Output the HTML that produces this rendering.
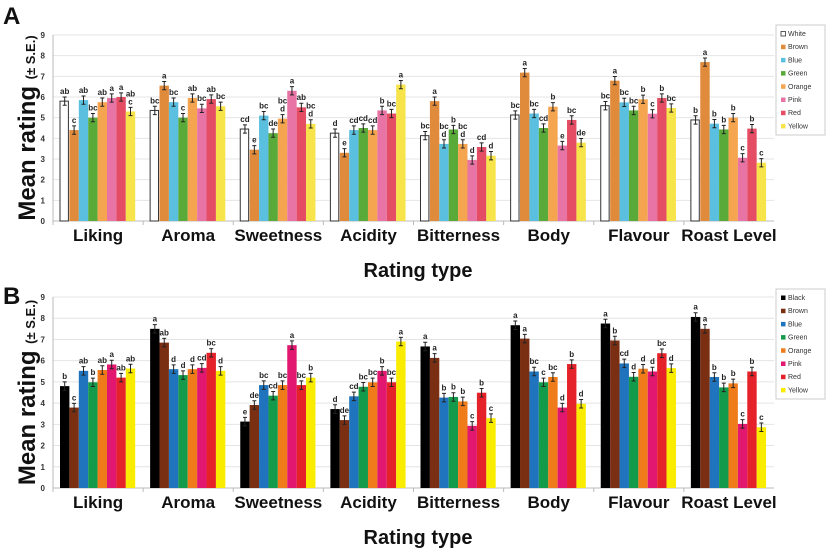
<!DOCTYPE html>
<html><head><meta charset="utf-8"><style>
body{margin:0;background:#fff;font-family:"Liberation Sans",Arial,sans-serif;}
svg text{font-family:"Liberation Sans",Arial,sans-serif;}
</style></head><body>
<svg id="chart" width="826" height="550" viewBox="0 0 826 550" xmlns="http://www.w3.org/2000/svg"></svg>
<script>
const categories = ["Liking","Aroma","Sweetness","Acidity","Bitterness","Body","Flavour","Roast Level"];
const tickLabels = ["0","1","2","3","4","5","6","7","8","9"];
const seriesA = ["White","Brown","Blue","Green","Orange","Pink","Red","Yellow"];
const seriesB = ["Black","Brown","Blue","Green","Orange","Pink","Red","Yellow"];
const colorsA = ["#ffffff","#e08a3c","#5bc0e0","#5aaa3a","#f5a54f","#e874a6","#e44d63","#f7e44a"];
const colorsB = ["#000000","#7a2e12","#1f74bd","#139a4a","#f07b1a","#e2176f","#e52229","#f9ec00"];
const valuesA = [
 [5.8,4.4,5.85,5.0,5.75,5.95,6.0,5.3],
 [5.35,6.55,5.75,5.0,5.95,5.45,5.9,5.55],
 [4.45,3.45,5.1,4.25,4.95,6.3,5.5,4.7],
 [4.25,3.3,4.4,4.5,4.4,5.35,5.2,6.6],
 [4.13,5.8,3.73,4.43,3.73,2.95,3.58,3.16],
 [5.13,7.18,5.2,4.5,5.53,3.65,4.89,3.79],
 [5.58,6.79,5.74,5.35,5.89,5.19,5.95,5.47],
 [4.89,7.69,4.71,4.43,5.0,3.06,4.47,2.82]];
const lettersA = [
 ["ab","c","ab","bc","ab","a","a","ab\nc"],
 ["bc","a","bc","c","ab","bc","ab","bc"],
 ["cd","e","bc","de","bc\nd","a","ab","bc\nd"],
 ["d","e","cd","cd","cd","b","bc","a"],
 ["bc","a","bc\nd","b","bc\nd","d","cd","d"],
 ["bc","a","bc","cd","b","e","bc","de"],
 ["bc","a","bc","bc","b","c","b","bc"],
 ["b","a","b","b","b","c","b","c"]];
const valuesB = [
 [4.8,3.79,5.52,4.98,5.56,5.82,5.2,5.63],
 [7.5,6.85,5.6,5.32,5.6,5.66,6.37,5.52],
 [3.13,3.91,4.85,4.35,4.85,6.73,4.85,5.2],
 [3.72,3.2,4.32,4.77,4.98,5.52,4.98,6.9],
 [6.67,6.13,4.26,4.29,4.08,2.93,4.49,3.29],
 [7.67,7.04,5.49,4.98,5.23,3.79,5.84,3.97],
 [7.75,6.95,5.87,5.24,5.62,5.49,6.35,5.65],
 [8.06,7.5,5.23,4.74,4.93,3.02,5.49,2.86]];
const lettersB = [
 ["b","c","ab","b","ab","a","ab","ab"],
 ["a","ab","d","d","d","cd","bc","d"],
 ["e","de","bc","cd","bc","a","bc","b"],
 ["d","de","cd","bc","bc","b","bc","a"],
 ["a","a","b","b","b","c","b","c"],
 ["a","a","bc","c","bc","d","b","d"],
 ["a","b","cd","d","d","d","bc","d"],
 ["a","a","b","b","b","c","b","c"]];
const SE = 0.2;

const svg = document.getElementById('chart');
const NS = "http://www.w3.org/2000/svg";
function mk(tag, attrs, parent, txt){
  const e = document.createElementNS(NS, tag);
  for (const k in attrs) e.setAttribute(k, attrs[k]);
  if (txt !== undefined) e.textContent = txt;
  (parent||svg).appendChild(e);
  return e;
}

function panel(P){
  const g = mk('g', {});
  
  
  const x0 = 53, x1 = 774;
  const y = v => P.zero - v * (P.zero - P.top) / 9;
  const gw = (x1 - x0) / categories.length;
  tickLabels.forEach((t, i) => {
    const yy = y(i);
    if (i > 0) {
      const gl = mk('line', {x1:x0, x2:x1, y1:yy, y2:yy, stroke:'#e4e4e4', 'stroke-width':1}, g);
      
      
    }
    const tl = mk('text', {x:x0-8, y:yy+3, 'font-size':8, 'font-weight':'bold', 'text-anchor':'end', fill:'#333'}, g, t);
    
    
  });
  const ax = mk('line', {x1:x0, x2:x0, y1:P.top, y2:P.zero, stroke:'#bbb'}, g);
  
  
  const bx = mk('line', {x1:x0, x2:x1, y1:P.zero, y2:P.zero, stroke:'#bbb'}, g);
  
  
  const bw = 9.4;
  categories.forEach((c, ci) => {
    const gx = x0 + ci * gw;
    const tk = mk('line', {x1:gx, x2:gx, y1:P.zero, y2:P.zero+4, stroke:'#bbb'}, g);
    
    
    const start = gx + 7;
    P.values[ci].forEach((v, si) => {
      const bxp = start + si * bw;
      const r = mk('rect', {x:bxp, y:y(v), width:bw - (P.outline && si===0 ? 1 : 0), height:P.zero - y(v), fill:P.colors[si],
        stroke: (P.outline && si===0) ? '#333' : 'none', 'stroke-width':1}, g);
      
      
      const cx = bxp + bw/2;
      const e = mk('path', {d:`M${cx},${y(v+SE)}V${y(v-SE)}M${cx-2},${y(v+SE)}H${cx+2}M${cx-2},${y(v-SE)}H${cx+2}`, stroke:'#222', 'stroke-width':1, fill:'none'}, g);
      
      
      const lines = P.letters[ci][si].split('\n');
      lines.forEach((ln, li) => {
        const ty = y(v+SE) - 3 - (lines.length - 1 - li) * 8;
        const lt = mk('text', {x:cx, y:ty, 'font-size':8, 'font-weight':'bold', 'text-anchor':'middle', fill:'#222'}, g, ln);
        
        
      });
    });
    const cl = mk('text', {x:gx + gw/2, y:P.zero + 20, 'font-size':17, 'font-weight':'bold', 'text-anchor':'middle', fill:'#111'}, g, c);
    
    
  });
  const yt = mk('text', {transform:`translate(35,${(P.top+P.zero)/2}) rotate(-90)`, 'text-anchor':'middle', 'font-weight':'bold', fill:'#111'}, g);
  
  
  mk('tspan', {'font-size':24}, yt, 'Mean rating ');
  mk('tspan', {'font-size':13}, yt, '(± S.E.)');
  const xt = mk('text', {x:418, y:P.zero + 56, 'font-size':20, 'font-weight':'bold', 'text-anchor':'middle', fill:'#111'}, g, 'Rating type');
  
  
  const pl = mk('text', {x:3, y:P.letterY, 'font-size':24, 'font-weight':'bold', fill:'#111'}, g, P.label);
  
  
  const lg = mk('g', {}, g);
  
  
  mk('rect', {x:776, y:P.legY, width:49, height:110, fill:'#fff', stroke:'#ccc'}, lg);
  P.series.forEach((s, i) => {
    const ly = P.legY + 11 + i * 13.2;
    const sw = mk('rect', {x:781, y:ly-4.5, width:4.5, height:4.5, fill:P.colors[i], stroke:(P.outline && i===0)?'#333':'none', 'stroke-width':0.8}, lg);
    
    
    const lt = mk('text', {x:788, y:ly, 'font-size':7, fill:'#333'}, lg, s);
    
    
  });
}

panel({name:'panel-a', label:'A', letterY:24, top:35, zero:221, values:valuesA, letters:lettersA, colors:colorsA, series:seriesA, outline:true, legY:25});
panel({name:'panel-b', label:'B', letterY:304, top:297, zero:488, values:valuesB, letters:lettersB, colors:colorsB, series:seriesB, outline:false, legY:289});
</script>
</body></html>
